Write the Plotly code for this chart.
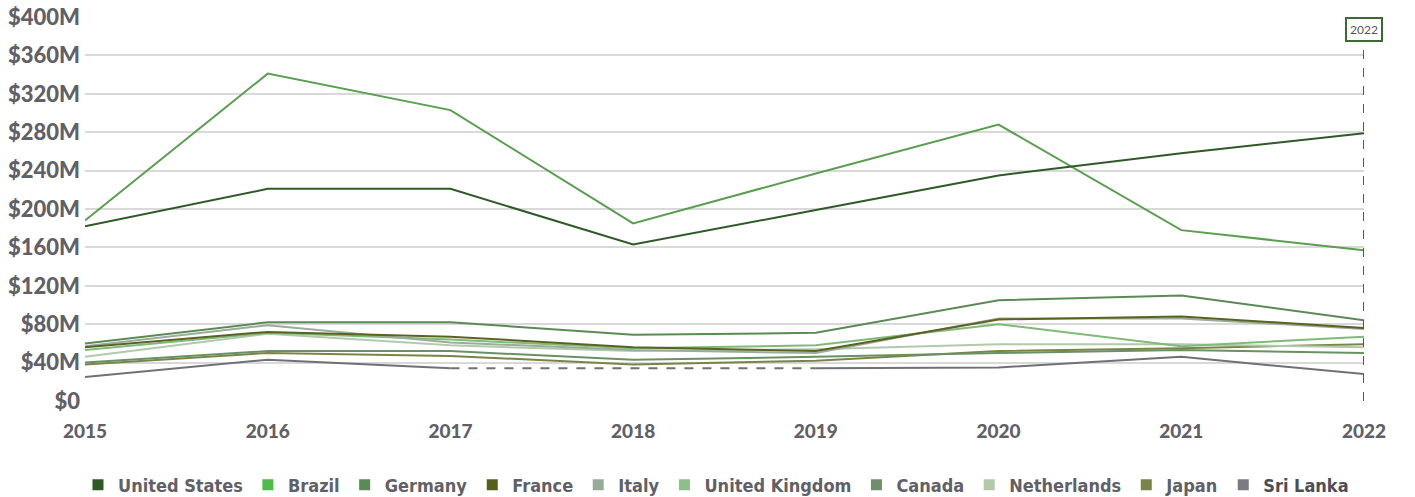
import plotly.graph_objects as go

years = ["2015", "2016", "2017", "2018", "2019", "2020", "2021", "2022"]

united_states = [182, 221, 221, 163, 199, 235, 258, 279]
brazil = [188, 341, 303, 185, 237, 288, 178, 157]
germany = [60, 82, 82, 69, 71, 105, 110, 84]
france = [56, 72, 67, 56, 52, 85, 88, 76]
italy = [57, 79, 61, 53, 50, 86, 86, 75]
united_kingdom = [53, 71, 64, 55, 58, 80, 57, 67]
canada = [40, 52, 52, 43, 46, 50, 53, 50]
netherlands = [46, 70, 58, 52, 54, 59, 59, 56]
japan = [38, 50, 47, 38, 42, 52, 55, 59]
sri_lanka = [25, 43, 34, None, 34, 35, 46, 28]

y_tick_vals = [0, 40, 80, 120, 160, 200, 240, 280, 320, 360, 400]
y_tick_text = ["$0", "$40M", "$80M", "$120M", "$160M", "$200M", "$240M",
               "$280M", "$320M", "$360M", "$400M"]

marker_year = "2022"

series = [
    ("United States", united_states, "#2f5a28", "#2e5a26"),
    ("Brazil", brazil, "#5a9e4f", "#4dbb4a"),
    ("Germany", germany, "#5b8a57", "#5a8a56"),
    ("France", france, "#5a6222", "#56601e"),
    ("Italy", italy, "#9aac9a", "#98aa98"),
    ("United Kingdom", united_kingdom, "#7fba78", "#8cc08a"),
    ("Canada", canada, "#6a9066", "#6f8f6c"),
    ("Netherlands", netherlands, "#b3c9ad", "#b3c9ad"),
    ("Japan", japan, "#7a8446", "#7a8448"),
    ("Sri Lanka", sri_lanka, "#707178", "#7a7b80"),
]

fig = go.Figure()

for name, vals, lc, _ in reversed(series):
    fig.add_trace(go.Scatter(
        x=years, y=vals, mode="lines", name=name,
        line=dict(color=lc, width=2), showlegend=False,
        connectgaps=False, hoverinfo="skip"))

gap_idx = sri_lanka.index(None)
fig.add_trace(go.Scatter(
    x=[years[gap_idx - 1], years[gap_idx + 1]],
    y=[sri_lanka[gap_idx - 1], sri_lanka[gap_idx + 1]],
    mode="lines", line=dict(color="#707178", width=2, dash="dash"),
    showlegend=False, hoverinfo="skip"))

for name, vals, _, sc in series:
    label = name
    if name == "Sri Lanka":
        label = "<span style='color:#4d4e54'>Sri Lanka</span>"
    fig.add_trace(go.Scatter(
        x=[None], y=[None], mode="markers", name=label,
        marker=dict(symbol="square", size=11, color=sc)))

mx = years.index(marker_year)
fig.add_shape(type="line", xref="x", yref="y",
              x0=mx, x1=mx, y0=0, y1=y_tick_vals[-1],
              line=dict(color="#3b6a33", width=2, dash="dash"), layer="above")
fig.add_annotation(x=mx, y=y_tick_vals[-1], xref="x", yref="y",
                   text=marker_year, showarrow=False, yanchor="top",
                   font=dict(family="Lato", size=12, color="#555555"),
                   bordercolor="#3b6a33", borderwidth=2, borderpad=3,
                   bgcolor="white")

fig.update_layout(
    width=1415, height=497,
    margin=dict(l=85, r=51, t=17, b=96, autoexpand=False),
    plot_bgcolor="white", paper_bgcolor="white",
    showlegend=True,
    legend=dict(orientation="h", xref="container", yref="container",
                x=0.506, xanchor="center", y=0.024, yanchor="middle",
                font=dict(family="DejaVu Sans Condensed, Liberation Sans",
                          size=18, color="#606066", weight=700),
                itemwidth=30, tracegroupgap=0),
    xaxis=dict(type="category", range=[0, len(years) - 1],
               showgrid=False, zeroline=False, showline=False, ticks="",
               tickfont=dict(family="Lato", size=19, color="#606066",
                             weight=900),
               ticklabelstandoff=17),
    yaxis=dict(range=[0, y_tick_vals[-1]], tickvals=y_tick_vals,
               ticktext=y_tick_text, showgrid=True, gridcolor="#d9d9d9",
               gridwidth=2, zeroline=False, showline=False, ticks="",
               tickfont=dict(family="Lato", size=22, color="#606066",
                             weight=900),
               ticklabelstandoff=4),
)

fig.write_html("out.html")
